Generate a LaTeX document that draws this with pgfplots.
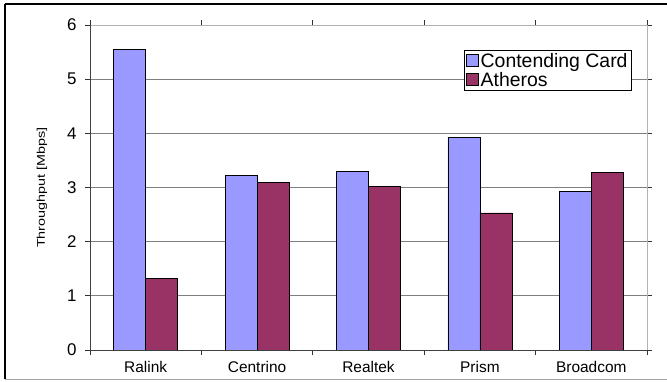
\documentclass[border=0pt]{standalone}
\usepackage{pgfplots}
\pgfplotsset{compat=1.18}
\usepackage{fontspec}
\setmainfont{Liberation Sans}
\definecolor{cblue}{HTML}{9999FF}
\definecolor{cmaroon}{HTML}{993366}
\definecolor{gridgray}{HTML}{7F7F7F}
\begin{document}
\begin{tikzpicture}[x=1bp,y=1bp]
\useasboundingbox (0,0) rectangle (667,381);
\begin{scope}
\clip (0,0) rectangle (667,381);
\draw[black,line width=1.2bp] (5,377) -- (5,2);
\draw[black,line width=1.2bp] (5,377) -- (680,377);
\draw[gray!70,line width=1bp] (5,2) -- (680,2);
\end{scope}
\begin{axis}[
  at={(90bp,31bp)}, anchor=south west,
  scale only axis, width=557bp, height=325bp,
  xmin=-0.5, xmax=4.5, ymin=0, ymax=6,
  ybar, bar width=32bp,
  axis line style={draw=none},
  /pgf/number format/assume math mode=true,
  xtick={0,1,2,3,4},
  xticklabels={Ralink,Centrino,Realtek,Prism,Broadcom},
  x tick label style={font=\fontsize{15.5}{17}\selectfont, yshift=-3bp},
  major x tick style={draw=none},
  minor xtick={-0.5,0.5,1.5,2.5,3.5,4.5},
  minor x tick style={black!80, line width=0.8bp},
  ytick={0,1,2,3,4,5,6},
  y tick label style={font=\fontsize{17}{19}\selectfont},
  yticklabel style={xshift=-5bp},
  tick align=outside,
  major tick length=5bp, minor tick length=5bp,
  y tick style={black!80, line width=0.8bp},
  ymajorgrids, grid style={gridgray, line width=0.9bp},
  ylabel={\scalebox{1.03}[0.8]{\fontsize{14}{16}\selectfont Throughput [Mbps]}},
  ylabel style={at={(axis description cs:0,0.5)}, anchor=center, yshift=48bp},
  legend style={at={(0.973,0.923)}, anchor=north east, draw=black, line width=0.8bp,
    font=\fontsize{19.5}{21}\selectfont, inner xsep=2bp, inner ysep=1bp, row sep=-1bp,
    legend cell align=left, /tikz/every even column/.style={column sep=0bp}},
  legend image code/.code={\draw[#1, draw=black, line width=0.6bp] (0bp,-5.5bp) rectangle (12bp,6.5bp);},
  clip=false,
]
\addplot[fill=cblue, draw=black, line width=0.8bp, bar shift=-16bp] coordinates {(0,5.55) (1,3.22) (2,3.30) (3,3.93) (4,2.92)};
\addplot[fill=cmaroon, draw=black, line width=0.8bp, bar shift=16bp] coordinates {(0,1.32) (1,3.09) (2,3.02) (3,2.53) (4,3.28)};
\legend{Contending Card, Atheros}
\draw[gray!60, line width=0.9bp] (rel axis cs:0,1) -- (rel axis cs:1,1) -- (rel axis cs:1,0);
\draw[black!75, line width=1bp] (rel axis cs:0,1) -- (rel axis cs:0,0) -- (rel axis cs:1,0);
\end{axis}
\end{tikzpicture}
\end{document}
